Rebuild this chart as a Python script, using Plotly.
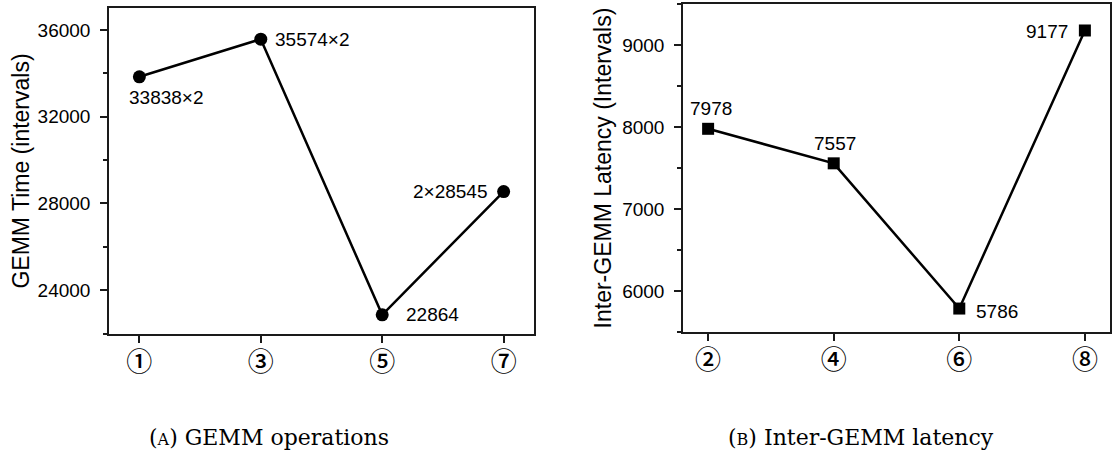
import plotly.graph_objects as go

# ---- data ----
cats_a = ["①", "③", "⑤", "⑦"]
gemm_time = [33838, 35574, 22864, 28545]
labels_a = ["33838×2", "35574×2", "22864", "2×28545"]

cats_b = ["②", "④", "⑥", "⑧"]
latency = [7978, 7557, 5786, 9177]
labels_b = ["7978", "7557", "5786", "9177"]

W, H = 1112, 455
SANS = "Liberation Sans, Arial, sans-serif"
SERIF = "DejaVu Serif, serif"
CIRC = "Noto Sans CJK JP, DejaVu Sans, sans-serif"

fig = go.Figure()
fig.add_trace(go.Scatter(
    x=list(range(len(cats_a))), y=gemm_time, mode="lines+markers",
    line=dict(color="black", width=2.5),
    marker=dict(symbol="circle", size=13, color="black"),
    xaxis="x", yaxis="y", showlegend=False, cliponaxis=False))
fig.add_trace(go.Scatter(
    x=list(range(len(cats_b))), y=latency, mode="lines+markers",
    line=dict(color="black", width=2.5),
    marker=dict(symbol="square", size=12, color="black"),
    xaxis="x2", yaxis="y2", showlegend=False, cliponaxis=False))

common_axis = dict(showline=True, linecolor="#1a1a1a", linewidth=1.5, mirror=True,
                   showgrid=False, zeroline=False, ticks="outside", ticklen=7,
                   tickwidth=1.5, tickcolor="#1a1a1a")

circ_font = dict(family=CIRC, size=26, color="black", weight=500)

fig.update_layout(
    width=W, height=H, margin=dict(l=0, r=0, t=0, b=0),
    paper_bgcolor="white", plot_bgcolor="white",
    xaxis=dict(domain=[109 / W, 534 / W], anchor="y", range=[-0.25, 3.25],
               tickmode="array", tickvals=list(range(len(cats_a))), ticktext=cats_a,
               tickfont=circ_font, ticklabelstandoff=-3, **common_axis),
    yaxis=dict(domain=[1 - 334 / H, 1 - 8 / H], anchor="x", range=[21980, 37010],
               tick0=0, dtick=4000, tickformat="d",
               tickfont=dict(family=SANS, size=19, color="black"),
               ticklabelstandoff=6,
               minor=dict(ticks="outside", ticklen=4, tickwidth=1.5, tickcolor="#1a1a1a", dtick=2000, tick0=0),
               title=dict(text="GEMM Time (intervals)", font=dict(family=SANS, size=23, color="black"), standoff=2),
               **common_axis),
    xaxis2=dict(domain=[683 / W, 1110 / W], anchor="y2", range=[-0.2, 3.2],
                tickmode="array", tickvals=list(range(len(cats_b))), ticktext=cats_b,
                tickfont=circ_font, ticklabelstandoff=-3, **common_axis),
    yaxis2=dict(domain=[1 - 332 / H, 1 - 4 / H], anchor="x2", range=[5500, 9500],
                tick0=0, dtick=1000, tickformat="d",
                tickfont=dict(family=SANS, size=19, color="black"),
                ticklabelstandoff=6,
                minor=dict(ticks="outside", ticklen=4, tickwidth=1.5, tickcolor="#1a1a1a", dtick=500, tick0=0),
                title=dict(text="Inter-GEMM Latency (Intervals)", font=dict(family=SANS, size=23, color="black"), standoff=4),
                **common_axis),
)

# data labels
lab_font = dict(family=SANS, size=19, color="black")
offs_a = [(27, -21, "center"), (12, 0, "left"), (22, 0, "left"), (-14, 0, "right")]
for i, (v, t) in enumerate(zip(gemm_time, labels_a)):
    dx, dy, anc = offs_a[i]
    fig.add_annotation(x=i, y=v, xref="x", yref="y", text=t, showarrow=False,
                       xanchor=anc, yanchor="middle", xshift=dx, yshift=dy, font=lab_font)
offs_b = [(3, 20, "center"), (1, 20, "center"), (15, -3, "left"), (-15, -1, "right")]
for i, (v, t) in enumerate(zip(latency, labels_b)):
    dx, dy, anc = offs_b[i]
    fig.add_annotation(x=i, y=v, xref="x2", yref="y2", text=t, showarrow=False,
                       xanchor=anc, yanchor="middle", xshift=dx, yshift=dy, font=lab_font)

# captions
cap_font = dict(family=SERIF, size=22, color="black")
fig.add_annotation(x=269 / W, y=1 - 437 / H, xref="paper", yref="paper", showarrow=False,
                   text="(<span style='font-size:16px'>A</span>) GEMM operations",
                   font=cap_font, xanchor="center", yanchor="middle")
fig.add_annotation(x=861 / W, y=1 - 437 / H, xref="paper", yref="paper", showarrow=False,
                   text="(<span style='font-size:16px'>B</span>) Inter-GEMM latency",
                   font=cap_font, xanchor="center", yanchor="middle")

fig.write_html("out.html")
